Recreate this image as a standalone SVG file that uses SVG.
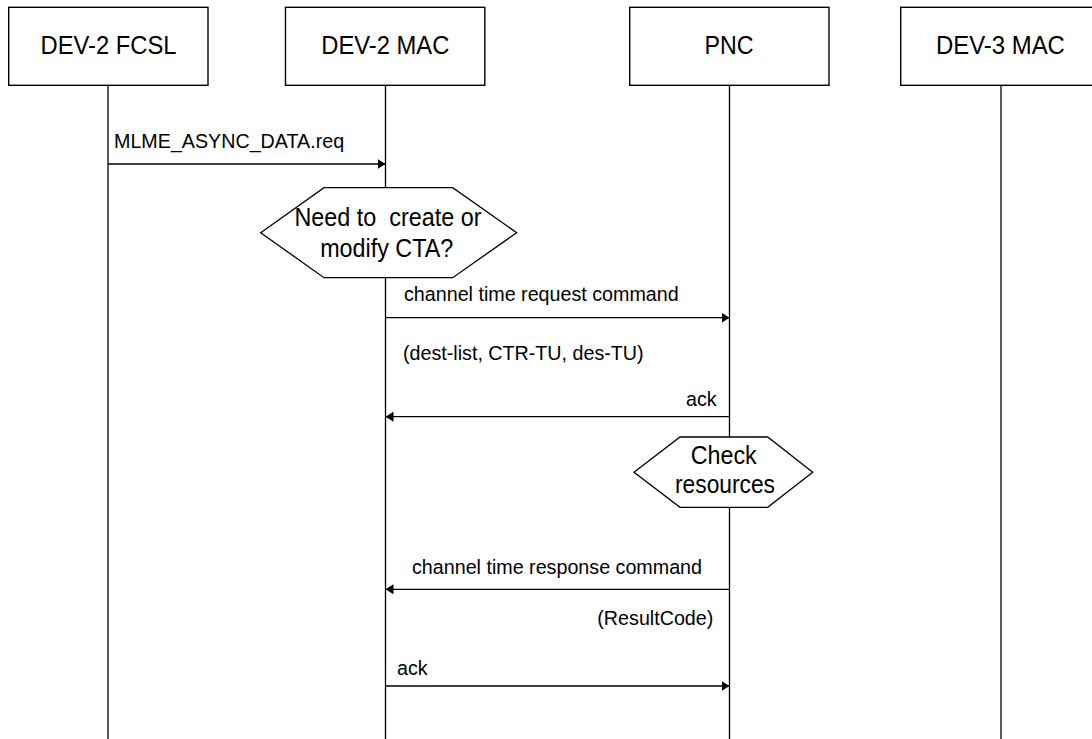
<svg xmlns="http://www.w3.org/2000/svg" width="1092" height="739" viewBox="0 0 1092 739">
<style>
.box{fill:#fff;stroke:#000;stroke-width:1.4}
.life{stroke:#000;stroke-width:1.3;fill:none}
.msg{stroke:#000;stroke-width:1.3;fill:none;marker-end:url(#ah)}
.hex{fill:#fff;stroke:#000;stroke-width:1.3}
.big{font-family:"Liberation Sans",Arial,sans-serif;font-size:25px;fill:#000}
.sm{font-family:"Liberation Sans",Arial,sans-serif;font-size:19.7px;fill:#000}
</style>
<defs>
<marker id="ah" markerUnits="userSpaceOnUse" markerWidth="9" markerHeight="10" refX="8" refY="5" orient="auto">
<path d="M0,0 L8,5 L0,10 z" fill="#000"/>
</marker>
</defs>
<rect width="1092" height="739" fill="#fff"/>
<g id="lifelines">
<line class="life" x1="108" y1="85" x2="108" y2="739"/>
<line class="life" x1="385.5" y1="85" x2="385.5" y2="739"/>
<line class="life" x1="729.5" y1="85" x2="729.5" y2="739"/>
<line class="life" x1="1001" y1="85" x2="1001" y2="739"/>
</g>
<g id="dev2-fcsl">
<rect class="box" x="8.7" y="7.3" width="199.3" height="78"/>
<text class="big" x="108.5" y="54" text-anchor="middle" textLength="136" lengthAdjust="spacingAndGlyphs">DEV-2 FCSL</text>
</g>
<g id="dev2-mac">
<rect class="box" x="285.5" y="7.3" width="199.3" height="78"/>
<text class="big" x="385.3" y="54" text-anchor="middle" textLength="128" lengthAdjust="spacingAndGlyphs">DEV-2 MAC</text>
</g>
<g id="pnc">
<rect class="box" x="629.7" y="7.3" width="199.3" height="78"/>
<text class="big" x="729" y="54" text-anchor="middle" textLength="49" lengthAdjust="spacingAndGlyphs">PNC</text>
</g>
<g id="dev3-mac">
<rect class="box" x="900.7" y="7.3" width="199.3" height="78"/>
<text class="big" x="1000.4" y="54" text-anchor="middle" textLength="129" lengthAdjust="spacingAndGlyphs">DEV-3 MAC</text>
</g>
<g id="decision-cta">
<polygon class="hex" points="260.7,232.7 324,187.7 452.7,187.7 516.7,232.7 452.7,277.7 324,277.7"/>
<text class="big" x="388" y="225.7" text-anchor="middle" xml:space="preserve" textLength="187" lengthAdjust="spacingAndGlyphs">Need to  create or</text>
<text class="big" x="386.7" y="256.5" text-anchor="middle" textLength="133" lengthAdjust="spacingAndGlyphs">modify CTA?</text>
</g>
<g id="check-resources">
<polygon class="hex" points="634,472.3 680,437 767.7,437 812.7,472.3 767.7,507.3 680,507.3"/>
<text class="big" x="723.7" y="464" text-anchor="middle" textLength="66" lengthAdjust="spacingAndGlyphs">Check</text>
<text class="big" x="725" y="493.3" text-anchor="middle" textLength="100" lengthAdjust="spacingAndGlyphs">resources</text>
</g>
<g id="connectors">
<line class="msg" x1="108" y1="164" x2="385.5" y2="164"/>
<text class="sm" x="114" y="148">MLME_ASYNC_DATA.req</text>
<line class="msg" x1="385.5" y1="317.7" x2="729.5" y2="317.7"/>
<text class="sm" x="404" y="300.7">channel time request command</text>
<text class="sm" x="403" y="360">(dest-list, CTR-TU, des-TU)</text>
<line class="msg" x1="729.5" y1="416.7" x2="385.5" y2="416.7"/>
<text class="sm" x="716.7" y="406" text-anchor="end">ack</text>
<line class="msg" x1="729.5" y1="589.3" x2="385.5" y2="589.3"/>
<text class="sm" x="412" y="574.3">channel time response command</text>
<text class="sm" x="713.3" y="625" text-anchor="end">(ResultCode)</text>
<line class="msg" x1="385.5" y1="686" x2="729.5" y2="686"/>
<text class="sm" x="397" y="675">ack</text>
</g>
</svg>
